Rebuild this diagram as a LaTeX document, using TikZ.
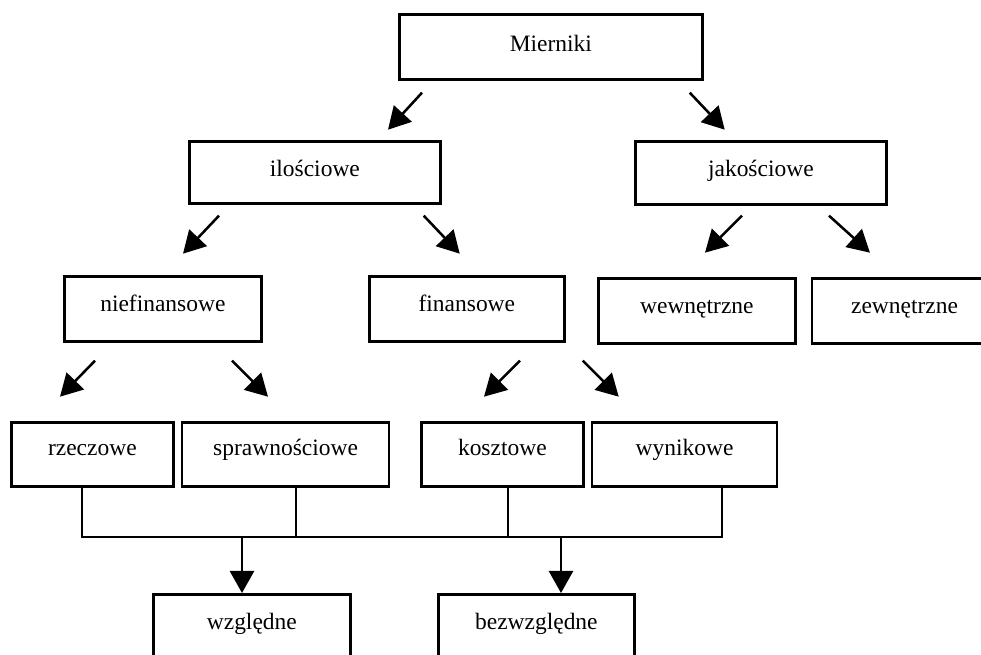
\documentclass[tikz,border=0pt]{standalone}
\usepackage{fontspec}
\setmainfont{Liberation Serif}
\usetikzlibrary{positioning, calc, arrows.meta}

\begin{document}
\begin{tikzpicture}[
    x=0.025cm, y=-0.025cm,
    font=\fontsize{16.7}{20}\selectfont,
    box/.style={rectangle, draw, line width=1.9pt, inner sep=0pt, text height=0.875cm, text depth=0.75cm, anchor=north west},
    lowbox/.style={box, text height=0.825cm, text depth=0.775cm},
    conn/.style={line width=1.6pt},
    arrow/.style={-{Triangle[length=0.55cm, width=0.6cm]}, line width=1.8pt}
]
    \useasboundingbox (0,0) rectangle (981,655);
    \clip (0,0) rectangle (981,655);

    % Level 1
    \node[box, minimum width=7.575cm, text height=0.925cm, text depth=0.7cm] (mier) at (398,13) {Mierniki};

    % Level 2
    \node[box, minimum width=6.275cm, text depth=0.675cm] (ilosc) at (188,140) {ilościowe};
    \node[box, minimum width=6.275cm, text depth=0.7cm] (jakosc) at (634,140) {jakościowe};
    \draw[arrow] ($(mier.south west)+(24,12)$) -- ++(-34,37);
    \draw[arrow] ($(mier.south east)+(-14,12)$) -- ++(35,37);

    % Level 3
    \node[box, minimum width=4.925cm] (niefin) at (63,275) {niefinansowe};
    \node[box, minimum width=4.875cm] (finans) at (368,275) {finansowe};
    \node[box, minimum width=4.925cm] (wewn) at (597,277) {wewnętrzne};
    \node[box, minimum width=4.625cm, right=0.35cm of wewn] (zewn) {zewnętrzne};
    \draw[arrow] ($(ilosc.south west)+(31,11)$) -- ++(-36,38);
    \draw[arrow] ($(ilosc.south east)+(-18,11)$) -- ++(36,38);
    \draw[arrow] ($(jakosc.south west)+(108,10)$) -- ++(-37,37);
    \draw[arrow] ($(jakosc.south west)+(195,10)$) -- ++(41,37);

    % Level 4
    \node[lowbox, minimum width=4.05cm] (rzecz) at (10,421) {rzeczowe};
    \node[lowbox, minimum width=5.175cm, right=0.15cm of rzecz] (spraw) {sprawnościowe};
    \node[lowbox, minimum width=4.05cm] (koszt) at (420,421) {kosztowe};
    \node[lowbox, minimum width=4.625cm, right=0.15cm of koszt] (wynik) {wynikowe};
    \draw[arrow] ($(niefin.south west)+(32,18)$) -- ++(-35,36);
    \draw[arrow] ($(niefin.south west)+(169,18)$) -- ++(36,36);
    \draw[arrow] ($(finans.south west)+(152,18)$) -- ++(-36,36);
    \draw[arrow] ($(finans.south east)+(17,18)$) -- ++(36,36);

    % Level 5
    \node[box, minimum width=4.925cm, text depth=0.8cm] (wzgl) at (152,593) {względne};
    \node[box, minimum width=4.9cm, text depth=0.8cm] (bezw) at (437,593) {bezwzględne};

    % Collecting line
    \coordinate (bus) at (0,537);
    \coordinate (d1) at ($(rzecz.south west)+(72,0)$);
    \coordinate (d2) at ($(spraw.south west)+(115,0)$);
    \coordinate (d3) at ($(koszt.south west)+(88,0)$);
    \coordinate (d4) at ($(wynik.south west)+(131,0)$);
    \draw[conn] (d1) -- (d1 |- bus) -- (d4 |- bus) -- (d4);
    \foreach \d in {d2, d3}
        \draw[conn] (\d) -- (\d |- bus);
    \coordinate (t1) at ($(wzgl.north west)+(90,0)$);
    \coordinate (t2) at ($(bezw.north west)+(124,0)$);
    \draw[arrow] (t1 |- bus) -- (t1);
    \draw[arrow] (t2 |- bus) -- (t2);
\end{tikzpicture}
\end{document}
